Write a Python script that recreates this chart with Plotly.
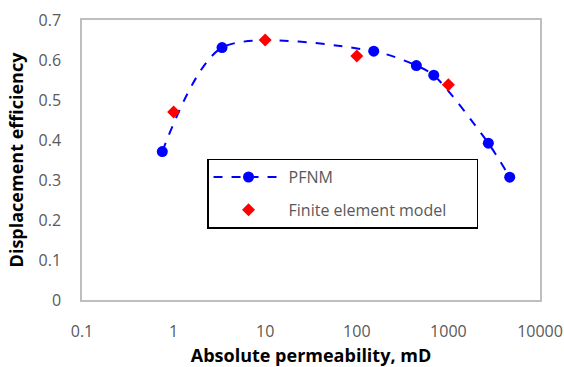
import plotly.graph_objects as go

pfnm_x = [0.753, 3.38, 153, 447, 692, 2730, 4670]
pfnm_y = [0.371, 0.631, 0.622, 0.586, 0.562, 0.392, 0.307]
fem_x = [1, 10, 100, 1000]
fem_y = [0.47, 0.65, 0.61, 0.538]

x_ticks = [0.1, 1, 10, 100, 1000, 10000]
x_tick_labels = ["0.1", "1", "10", "100", "1000", "10000"]
y_ticks = [0, 0.1, 0.2, 0.3, 0.4, 0.5, 0.6, 0.7]
y_tick_labels = ["0", "0.1", "0.2", "0.3", "0.4", "0.5", "0.6", "0.7"]

font_family = "Open Sans, Liberation Sans, sans-serif"

fig = go.Figure()
fig.add_trace(go.Scatter(
    x=pfnm_x, y=pfnm_y, name="PFNM", mode="lines+markers", legendgroup="a",
    line=dict(color="#0000ff", dash="dash", width=2, shape="spline", smoothing=0.8),
    marker=dict(color="#0000ff", size=11, symbol="circle"),
))
fig.add_trace(go.Scatter(
    x=fem_x, y=fem_y, name="Finite element model" + "\u00a0" * 6, mode="markers", legendgroup="b",
    marker=dict(color="#ff0000", size=10, symbol="diamond"),
))

fig.update_layout(
    width=564, height=367,
    margin=dict(l=82, r=24, t=20, b=67, autoexpand=False),
    paper_bgcolor="white", plot_bgcolor="white",
    font=dict(family=font_family, color="#595959", size=16),
    legend=dict(
        x=0.273, y=0.505, xanchor="left", yanchor="top",
        bgcolor="white", bordercolor="black", borderwidth=1.5,
        font=dict(size=16, color="#595959"),
        traceorder="grouped", tracegroupgap=9,
        itemwidth=70,
    ),
    xaxis=dict(
        type="log", range=[-1, 4], automargin=False,
        tickvals=x_ticks, ticktext=x_tick_labels,
        showgrid=False, zeroline=False,
        showline=True, linecolor="#bfbfbf", linewidth=1.5, mirror=True,
        ticks="", ticklabelstandoff=16,
        title=dict(text="<b>Absolute permeability, mD</b>",
                   font=dict(size=18, color="black"), standoff=12),
    ),
    yaxis=dict(
        range=[0, 0.7], automargin=False,
        tickvals=y_ticks, ticktext=y_tick_labels,
        showgrid=False, zeroline=False,
        showline=True, linecolor="#bfbfbf", linewidth=1.5, mirror=True,
        ticks="", ticklabelstandoff=16,
        title=dict(text="<b>Displacement efficiency</b>",
                   font=dict(size=18, color="black"), standoff=10),
    ),
)

fig.write_html("out.html")
